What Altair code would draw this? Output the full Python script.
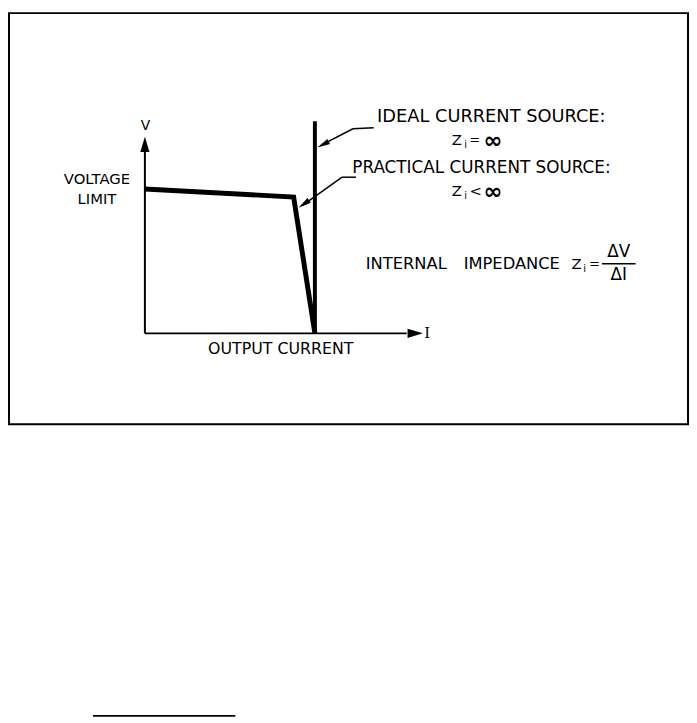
import math
import altair as alt
import pandas as pd

# ---- data (arbitrary units: I = output current, V = output voltage) ----
practical_I = [0.0, 8.75, 10.0]
practical_V = [10.0, 9.45, 0.0]
ideal_I = [10.0, 10.0]
ideal_V = [0.0, 14.7]
axis_I_end = 15.4
axis_V_end = 12.6

# ---- layout ----
W, H = 689, 713
OFF = 8  # page margin
X0, Y0 = 146.5, 333.0       # screen pixel of origin
PX_I, PX_V = 17.2, 14.6     # pixels per unit
xdom = [-(X0 - OFF) / PX_I, (W - (X0 - OFF)) / PX_I]
ydom = [((Y0 - OFF) - H) / PX_V, (Y0 - OFF) / PX_V]
xs = alt.Scale(domain=xdom, range=[0, W], nice=False, zero=False)
ys = alt.Scale(domain=ydom, range=[H, 0], nice=False, zero=False)
NOAX = None

FONT = "DejaVu Sans"
ARROW = "M0,-1L0.6,1L-0.6,1Z"
ARROW_N = "M0,-1L0.45,1L-0.45,1Z"


def px(x):
    return x - OFF


def line_layer(I, V, width):
    df = pd.DataFrame({"I": I, "V": V, "o": list(range(len(I)))})
    return alt.Chart(df).mark_line(color="black", strokeWidth=width, strokeJoin="miter",
                                   strokeCap="butt", clip=False).encode(
        x=alt.X("I:Q", scale=xs, axis=NOAX),
        y=alt.Y("V:Q", scale=ys, axis=NOAX),
        order="o:O",
    )


def seg(x1, y1, x2, y2, w=1.5):
    return alt.Chart(pd.DataFrame({"a": [0]})).mark_rule(color="black", strokeWidth=w).encode(
        x=alt.value(px(x1)), y=alt.value(px(y1)), x2=alt.value(px(x2)), y2=alt.value(px(y2)))


def head(tipx, tipy, fromx, fromy, length, shape):
    dx, dy = tipx - fromx, tipy - fromy
    L = math.hypot(dx, dy)
    ux, uy = dx / L, dy / L
    ang = math.degrees(math.atan2(ux, -uy)) % 360
    cx, cy = tipx - ux * length / 2, tipy - uy * length / 2
    return alt.Chart(pd.DataFrame({"a": [0]})).mark_point(
        shape=shape, filled=True, color="black", opacity=1, size=length * length,
        angle=ang, strokeWidth=0).encode(x=alt.value(px(cx)), y=alt.value(px(cy)))


def txt(s, x, y, size=15, align="left", font=FONT, weight="normal"):
    return alt.Chart(pd.DataFrame({"t": [s]})).mark_text(
        align=align, baseline="middle", font=font, fontSize=size, fontWeight=weight,
        color="black").encode(text="t:N", x=alt.value(px(x)), y=alt.value(px(y)))


layers = []
# frame
layers.append(alt.Chart(pd.DataFrame({"a": [0]})).mark_rect(
    fill=None, stroke="black", strokeWidth=2).encode(
    x=alt.value(1), x2=alt.value(W - 1), y=alt.value(1), y2=alt.value(px(425))))
# footnote rule
layers.append(seg(94, 720, 238, 720, 2))

# axes
layers.append(line_layer([0, 0], [0, axis_V_end], 2))
layers.append(line_layer([0, axis_I_end], [0, 0], 2))
ax_df = pd.DataFrame({"I": [0.0], "V": [13.1]})
layers.append(alt.Chart(ax_df).mark_point(shape=ARROW, filled=True, color="black", opacity=1,
                                          size=240, strokeWidth=0).encode(
    x=alt.X("I:Q", scale=xs, axis=NOAX), y=alt.Y("V:Q", scale=ys, axis=NOAX)))
ax_df2 = pd.DataFrame({"I": [15.9], "V": [0.0]})
layers.append(alt.Chart(ax_df2).mark_point(shape=ARROW, filled=True, color="black", opacity=1,
                                           size=240, angle=90, strokeWidth=0).encode(
    x=alt.X("I:Q", scale=xs, axis=NOAX), y=alt.Y("V:Q", scale=ys, axis=NOAX)))

# characteristic curves
layers.append(line_layer(ideal_I, ideal_V, 4))
layers.append(line_layer(practical_I, practical_V, 5))

# leaders
layers.append(seg(378, 125, 357, 126))
layers.append(seg(357, 126, 325, 142.5))
layers.append(head(321, 145, 357, 126, 13, ARROW_N))
layers.append(seg(360, 175, 346, 175))
layers.append(seg(346, 175, 306, 203.5))
layers.append(head(302, 206, 346, 175, 13, ARROW_N))

# texts
layers.append(txt("V", 147, 123, 14, "center"))
layers.append(txt("I", 432, 333, 15, "center", "DejaVu Serif"))
layers.append(txt("VOLTAGE", 98, 177, 15, "center"))
layers.append(txt("LIMIT", 98, 197, 15, "center"))
layers.append(txt("OUTPUT CURRENT", 284, 349, 16, "center"))
layers.append(txt("IDEAL CURRENT SOURCE:", 497, 114, 18, "center"))
layers.append(txt("PRACTICAL CURRENT SOURCE:", 487, 166, 17, "center"))
for yy, op in [(137, "="), (189, "<")]:
    layers.append(txt("Z", 457, yy, 15))
    layers.append(txt("i", 469.5, yy + 5, 10))
    layers.append(txt(op, 475, yy, 13 if op == "=" else 15))
    layers.append(txt("∞", 489, yy + 1, 23, weight="bold"))
layers.append(txt("INTERNAL", 370, 263, 16.5))
layers.append(txt("IMPEDANCE", 469, 263, 16.5))
layers.append(txt("Z", 578, 263, 15))
layers.append(txt("i", 590, 268, 10))
layers.append(txt("=", 596, 263, 13))
layers.append(txt("ΔV", 626, 251, 17, "center"))
layers.append(seg(609, 262.5, 643, 262.5, 1.5))
layers.append(txt("ΔI", 626, 274, 17, "center"))

chart = alt.layer(*layers).properties(
    width=W, height=H, padding=0, autosize=alt.AutoSizeParams(type="none"),
).configure_view(stroke=None)

chart.save("out.html", embed_options={"renderer": "svg", "actions": False})
